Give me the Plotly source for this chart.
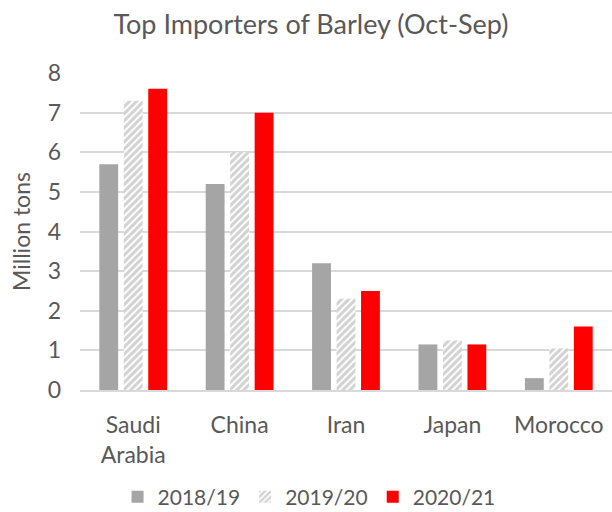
import plotly.graph_objects as go

countries = ["Saudi<br>Arabia", "China", "Iran", "Japan", "Morocco"]
y_2018 = [5.7, 5.2, 3.2, 1.15, 0.3]
y_2019 = [7.3, 6.0, 2.3, 1.25, 1.05]
y_2020 = [7.6, 7.0, 2.5, 1.15, 1.6]

font = "Lato, Open Sans, sans-serif"
grey_txt = "#595959"

fig = go.Figure()
fig.add_trace(go.Bar(x=countries, y=y_2018, name="2018/19",
                     marker=dict(color="#a5a5a5", line_width=0)))
fig.add_trace(go.Bar(x=countries, y=y_2019, name="2019/20",
                     marker=dict(color="white", line_width=0,
                                 pattern=dict(shape="/", fgcolor="#a5a5a5", bgcolor="white",
                                              size=5, solidity=0.6))))
fig.add_trace(go.Bar(x=countries, y=y_2020, name="2020/21",
                     marker=dict(color="#ff0000", line_width=0)))

fig.update_layout(
    width=612, height=512,
    margin=dict(l=80, r=0, t=73, b=122),
    plot_bgcolor="white", paper_bgcolor="white",
    font=dict(family=font, color=grey_txt, size=23),
    title=dict(text="Top Importers of Barley (Oct-Sep)", x=0.508, xanchor="center",
               y=0.953, yanchor="middle", font=dict(size=27, color=grey_txt)),
    barmode="group", bargap=0.31, bargroupgap=0.23,
    legend=dict(orientation="h", x=0.505, xanchor="center", xref="container",
                y=0.029, yanchor="middle", yref="container",
                font=dict(size=21), traceorder="normal"),
)
fig.update_yaxes(range=[0, 8], dtick=1, showgrid=True, gridcolor="#d9d9d9", gridwidth=1.5,
                 zeroline=False, showline=False, ticks="", ticklabelstandoff=18,
                 title=dict(text="Million tons", standoff=10, font=dict(size=23)))
fig.update_xaxes(showline=True, linecolor="#d9d9d9", linewidth=1.5, ticks="",
                 ticklabelstandoff=14)

# drop the default page margin so the chart sits at the top-left corner
fig.write_html("out.html", config={"displayModeBar": False},
               post_script="document.body.style.margin = '0';")
